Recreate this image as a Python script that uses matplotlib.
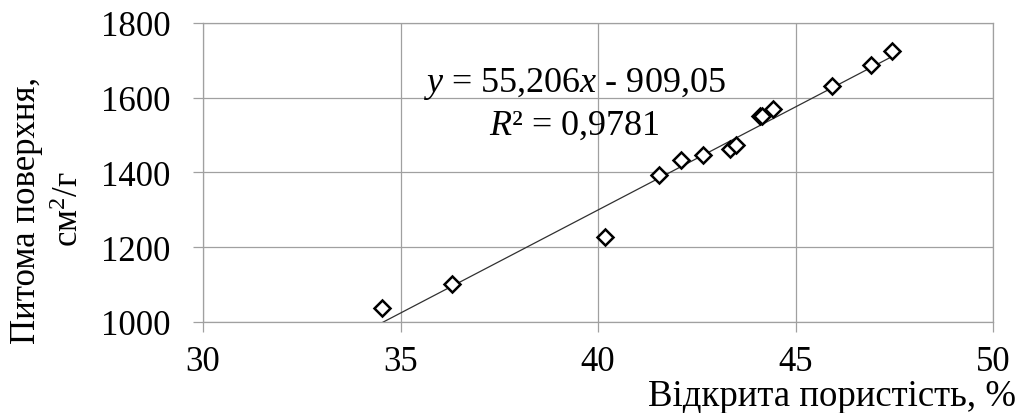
import matplotlib
matplotlib.use("Agg")
import matplotlib.pyplot as plt
import numpy as np

# Open porosity (%) vs specific surface area (cm²/g)
porosity = [34.52, 36.30, 40.18, 41.54, 42.09, 42.65, 43.34, 43.49,
            44.10, 44.14, 44.42, 45.92, 46.90, 47.45]
surface = [1038, 1101, 1227, 1394, 1433, 1447, 1462, 1474,
           1550, 1552, 1571, 1632, 1688, 1726]

# Linear trend reported on the chart
slope = 55.206
intercept = -909.05
r_squared = 0.9781

x_ticks = [30, 35, 40, 45, 50]
y_ticks = [1000, 1200, 1400, 1600, 1800]

plt.rcParams['font.family'] = ['Liberation Serif', 'DejaVu Serif']
plt.rcParams['mathtext.fontset'] = 'custom'
plt.rcParams['mathtext.rm'] = 'Liberation Serif'
plt.rcParams['mathtext.it'] = 'Liberation Serif:italic'


def dec(v, nd):
    return f"{v:.{nd}f}".replace('.', ',')


W, H = 1023, 414
fig = plt.figure(figsize=(W / 100, H / 100), dpi=100)
ax = fig.add_axes([203 / W, 1 - 322.7 / H, (993 - 203) / W, (322.7 - 24) / H])

grid_col = '#a0a0a0'
ax.set_xlim(30, 50)
ax.set_ylim(1000, 1800)
ax.set_xticks(x_ticks)
ax.set_yticks(y_ticks)
ax.grid(True, color=grid_col, linewidth=0.9)
ax.set_axisbelow(True)
for s in ax.spines.values():
    s.set_color(grid_col)
    s.set_linewidth(0.9)
ax.tick_params(axis='both', direction='out', length=7.5, width=0.9,
               color=grid_col, labelsize=25, labelcolor='black')
ax.tick_params(axis='x', pad=9)
ax.tick_params(axis='y', pad=16)

# Trend line across the data range
xl = np.array([min(porosity), max(porosity)])
ax.plot(xl, slope * xl + intercept, color='#303030', linewidth=0.9, zorder=2)

ax.plot(porosity, surface, linestyle='none', marker='D', markersize=7.8,
        markerfacecolor='white', markeredgecolor='black',
        markeredgewidth=1.8, zorder=3, clip_on=False)

# Regression equation
eq_x = 574 / W
fig.text(eq_x, 1 - 92 / H,
         r"$\mathit{y}$ = " + dec(slope, 3) + r"$\mathit{x}$ - " + dec(-intercept, 2),
         fontsize=26, ha='center', va='baseline')
fig.text(eq_x, 1 - 135 / H,
         r"$\mathit{R}$² = " + dec(r_squared, 4),
         fontsize=26, ha='center', va='baseline')

# Axis titles
fig.text(1016 / W, 1 - 406 / H, "Відкрита пористість, %", fontsize=26.5,
         ha='right', va='baseline')
fig.text(27 / W, 1 - 210 / H, "Питома поверхня,", fontsize=25,
         rotation=90, ha='center', va='center')
fig.text(70 / W, 1 - 209 / H, r"см$^{2}$/г", fontsize=25,
         rotation=90, ha='center', va='center')

fig.savefig("out.png", dpi=100)
